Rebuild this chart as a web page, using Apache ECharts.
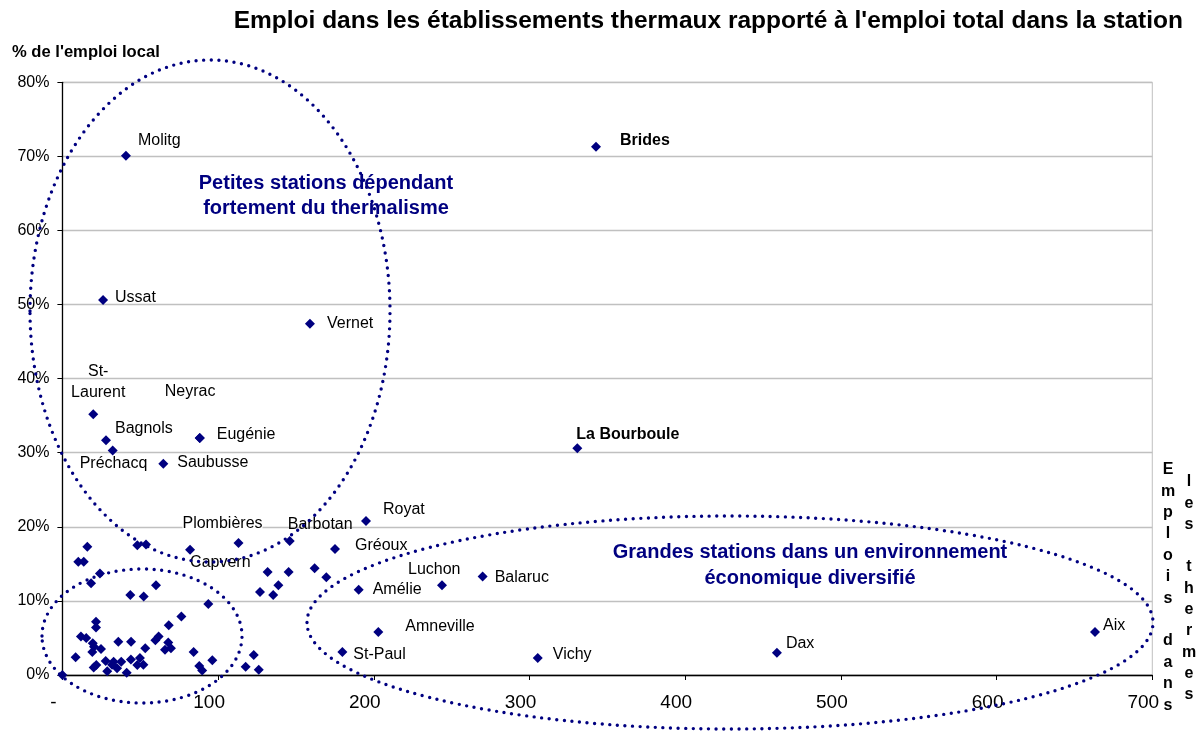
<!DOCTYPE html>
<html>
<head>
<meta charset="utf-8">
<script src="https://cdn.jsdelivr.net/npm/echarts@6/dist/echarts.min.js"></script>
<style>html,body{margin:0;padding:0;background:#fff}#c{width:1197px;height:731px}</style>
</head>
<body>
<div id="c"></div>
<script>
// ---- data ----
const titleText = "Emploi dans les établissements thermaux rapporté à l'emploi total dans la station";
const yAxisTitle = "% de l'emploi local";
const xAxisTitleCol1 = "Emplois dans";
const xAxisTitleCol2 = "les thermes";
const groupSmall = ["Petites stations dépendant", "fortement du thermalisme"];
const groupLarge = ["Grandes stations dans un environnement", "économique diversifié"];

const labeledNames = ['Molitg','Brides','Ussat','Vernet','St-Laurent','Bagnols','Préchacq','Neyrac','Eugénie','Saubusse','La Bourboule','Royat','Barbotan','Plombières','Capvern','Gréoux','Luchon','Amélie','Balaruc','Amneville','St-Paul','Vichy','Dax','Aix'];
const labeledJobs = [40.8,342.7,26.1,159.0,19.8,28.0,32.3,88.2,88.2,64.8,330.7,195.0,146.0,113.1,82.0,175.1,243.8,190.3,269.9,202.9,179.8,305.3,458.9,663.2];
const labeledShare = [70.1,71.3,50.6,47.4,35.2,31.7,30.3,32.0,32.0,28.5,30.6,20.8,18.1,17.8,16.9,17.0,12.1,11.5,13.3,5.8,3.1,2.3,3.0,5.8];

const otherJobs = [0,16.0,10.2,13.7,24.1,18.4,48.1,53.7,43.6,52.2,60.1,76.4,21.6,21.6,11.9,15.3,19.5,20.3,24.8,19.2,8.5,35.9,44.1,59.7,61.8,68.3,68.0,69.7,65.9,53.2,49.8,44.0,37.8,32.9,31.9,27.8,21.8,20.1,35.1,28.8,41.3,48.1,52.0,93.7,84.3,96.3,87.9,89.8,122.9,117.7,126.1,131.8,145.3,138.7,126.9,135.4,162.0,169.5];
const otherShare = [0,17.3,15.3,15.3,13.7,12.4,17.5,17.6,10.8,10.6,12.1,7.9,7.2,6.4,5.2,5.0,4.3,3.8,3.5,3.1,2.4,4.5,4.5,4.7,5.2,6.7,4.4,3.6,3.4,3.6,2.3,2.1,1.8,1.8,1.4,1.9,1.35,1.0,0.9,0.5,0.3,1.35,1.4,9.6,3.1,2.0,1.2,0.6,2.7,1.1,0.7,13.9,13.9,12.1,11.2,10.8,14.4,13.2];

const xTicks = [0,100,200,300,400,500,600,700];
const yTicks = [0,10,20,30,40,50,60,70,80];

// ---- label placement (style): [dx of text anchor from point, dy of text middle from point, variant] ----
const labelStyle = {
  'Molitg':[12,-15], 'Brides':[24,-6,'bold'], 'Ussat':[12,-3], 'Vernet':[17,0],
  'St-Laurent':[5,-32,'center'], 'Bagnols':[9,-12], 'Préchacq':[-33,13], 'Neyrac':[-35,-46],
  'Eugénie':[17,-3], 'Saubusse':[14,-1], 'La Bourboule':[-1,-14,'bold'], 'Royat':[17,-11],
  'Barbotan':[-2,-16], 'Plombières':[-56,-20,'bg'], 'Capvern':[0,13], 'Gréoux':[20,-3],
  'Luchon':[-34,-16], 'Amélie':[14,0], 'Balaruc':[12,1], 'Amneville':[27,-5],
  'St-Paul':[11,3], 'Vichy':[15,-3], 'Dax':[9,-9], 'Aix':[8,-6]
};

const NAVY = '#000080';
const FONT = "'Liberation Sans', Arial, sans-serif";
const SYM = 10;

const chart = echarts.init(document.getElementById('c'), null, {renderer:'canvas'});

const labeledData = labeledNames.map((n,i) => {
  const s = labelStyle[n];
  const lab = {
    show: true, position: [s[0] + SYM/2, s[1] + SYM/2],
    align: s[2]==='center' ? 'center' : 'left', verticalAlign: 'middle',
    color: '#000', fontSize: 16, fontFamily: FONT,
    fontWeight: s[2]==='bold' ? 'bold' : 'normal', lineHeight: 21,
    formatter: n === 'St-Laurent' ? 'St-\nLaurent' : n
  };
  if (s[2]==='bg') { lab.backgroundColor = '#fff'; }
  return { name: n, value: [labeledJobs[i], labeledShare[i]], label: lab };
});
const otherData = otherJobs.map((x,i) => [x, otherShare[i]]);

const dotted = { stroke: NAVY, fill: null, lineWidth: 3.4, lineDash: [0, 7.6], lineCap: 'round' };
const boldFont = s => "bold " + s + "px 'Liberation Sans', Arial, sans-serif";

chart.setOption({
  animation: false,
  backgroundColor: '#fff',
  title: {
    text: titleText, right: 14, top: 9, padding: 0,
    textStyle: { fontFamily: FONT, fontSize: 24.5, fontWeight: 'bold', color: '#000' }
  },
  grid: { left: 62.4, right: 44.7, top: 82.3, bottom: 56, show: true, borderColor: '#c0c0c0', borderWidth: 1, backgroundColor: 'transparent' },
  xAxis: {
    type: 'value', min: 0, max: 700, interval: 100,
    axisLine: { show: true, onZero: false, lineStyle: { color: '#000', width: 1.3 } },
    axisTick: { show: true, length: 5, lineStyle: { color: '#000' } },
    splitLine: { show: false },
    axisLabel: {
      show: true, margin: 18, fontSize: 19, color: '#000', fontFamily: FONT,
      padding: [0, 18, 0, 0], showMinLabel: true, showMaxLabel: true,
      formatter: v => xTicks.includes(v) ? (v === 0 ? '-' : String(v)) : ''
    }
  },
  yAxis: {
    type: 'value', min: 0, max: 80, interval: 10,
    axisLine: { show: true, onZero: false, lineStyle: { color: '#000', width: 1.3 } },
    axisTick: { show: true, length: 5, lineStyle: { color: '#000' } },
    splitLine: { show: true, lineStyle: { color: '#c0c0c0', width: 1.3 } },
    axisLabel: {
      margin: 13, fontSize: 16, color: '#000', fontFamily: FONT,
      formatter: v => yTicks.includes(v) ? v + '%' : ''
    }
  },
  series: [
    { type: 'scatter', symbol: 'diamond', symbolSize: SYM, itemStyle: { color: NAVY, opacity: 1 }, data: otherData, z: 3 },
    { type: 'scatter', symbol: 'diamond', symbolSize: SYM, itemStyle: { color: NAVY, opacity: 1 }, data: labeledData, z: 4,
      labelLayout: { hideOverlap: false } }
  ],
  graphic: [
    { type: 'text', left: 12, top: 44, style: { text: yAxisTitle, font: boldFont(16.6), fill: '#000' } },
    { type: 'text', x: 1168, y: 587.5, style: { text: xAxisTitleCol1.split('').join('\n'), font: boldFont(16), fill: '#000', textAlign: 'center', textVerticalAlign: 'middle', lineHeight: 21.4 } },
    { type: 'text', x: 1189, y: 588.3, style: { text: xAxisTitleCol2.split('').join('\n'), font: boldFont(16), fill: '#000', textAlign: 'center', textVerticalAlign: 'middle', lineHeight: 21.3 } },
    { type: 'ellipse', shape: { cx: 210, cy: 311, rx: 180, ry: 251 }, style: dotted, z: 10 },
    { type: 'ellipse', shape: { cx: 142, cy: 636, rx: 100, ry: 67 }, style: dotted, z: 10 },
    { type: 'ellipse', shape: { cx: 730, cy: 622.5, rx: 423, ry: 106.5 }, style: dotted, z: 10 },
    { type: 'text', x: 326, y: 195.5, style: { text: groupSmall.join('\n'), font: boldFont(20), fill: NAVY, textAlign: 'center', textVerticalAlign: 'middle', lineHeight: 25 }, z: 11 },
    { type: 'text', x: 810, y: 565, style: { text: groupLarge.join('\n'), font: boldFont(20), fill: NAVY, textAlign: 'center', textVerticalAlign: 'middle', lineHeight: 26 }, z: 11 }
  ]
});
</script>
</body>
</html>
